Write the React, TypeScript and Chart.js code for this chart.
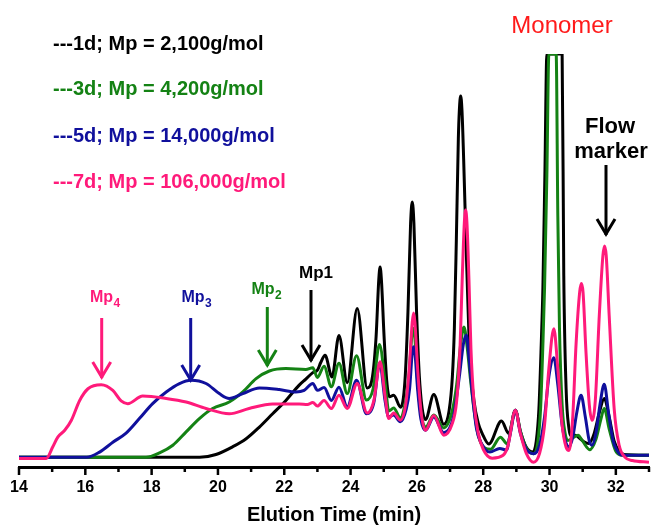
import { useEffect, useRef } from 'react';
import { Chart, registerables } from 'chart.js';

Chart.register(...registerables);

const FONT = "'Liberation Sans', Arial, Helvetica, sans-serif";

const X_MIN = 14;
const X_MAX = 33;
const Y_MIN = -2.4;
const Y_MAX = 100;
const xTickLabels = [14, 16, 18, 20, 22, 24, 26, 28, 30, 32];
const axisTitle = 'Elution Time (min)';

const seriesNames = ['1d', '3d', '5d', '7d'];
const legendLabels = [
  '---1d; Mp = 2,100g/mol',
  '---3d; Mp = 4,200g/mol',
  '---5d; Mp = 14,000g/mol',
  '---7d; Mp = 106,000g/mol',
];
const seriesColors = ['#000000', '#148214', '#10109c', '#ff1a7a'];

// [elution time (min), detector response]
const black1d: [number, number][] = [
  [14, 0], [19.45, 0], [19.94, 0.7], [20.44, 2.6], [20.85, 4.6], [21.25, 7.5], [21.65, 10.8],
  [22.05, 14.1], [22.45, 17.9], [22.65, 19.4], [22.86, 21], [23.0, 21.6], [23.1, 23.5],
  [23.23, 25.3], [23.44, 19.9], [23.65, 30.2], [23.9, 18.5], [24.2, 36.9], [24.5, 17.2],
  [24.66, 20], [24.77, 30], [24.85, 44], [24.89, 47.2], [24.93, 44], [25.01, 30], [25.09, 19],
  [25.17, 15], [25.3, 15.4], [25.51, 12.4], [25.64, 19], [25.73, 36], [25.81, 58], [25.86, 63.3],
  [25.91, 58], [25.99, 36], [26.09, 18], [26.26, 9.4], [26.51, 15.6], [26.81, 8.2], [26.97, 11.5],
  [27.07, 20], [27.13, 32], [27.19, 54], [27.25, 79], [27.28, 86], [27.32, 89.6], [27.36, 86],
  [27.41, 74], [27.49, 51], [27.59, 26.6], [27.72, 14.1], [27.85, 8.5], [27.97, 5.9],
  [28.17, 3.3], [28.55, 9], [28.77, 5.9], [28.97, 11.7], [29.12, 6.5], [29.3, 2.5], [29.5, 1.3],
  [29.6, 4], [29.68, 12], [29.75, 28], [29.8, 42], [29.86, 70], [29.92, 100], [30.38, 100],
  [30.43, 45], [30.5, 17], [30.58, 7.5], [30.68, 5.2], [30.78, 5.5], [30.9, 4.8], [31.05, 3.8],
  [31.18, 3.4], [31.35, 6], [31.5, 11], [31.65, 14.6], [31.8, 10], [31.95, 4], [32.1, 1.5],
  [32.25, 0.7], [33, 0.5],
];

const green3d: [number, number][] = [
  [14, 0], [17.83, 0], [18.24, 1.1], [18.64, 3], [19.04, 6.3], [19.44, 9.6], [19.84, 12.1],
  [20.34, 13.7], [20.75, 16.2], [21.15, 19.5], [21.55, 21.4], [22.05, 22], [22.65, 21.8],
  [22.86, 22.2], [23.0, 19.8], [23.2, 22.6], [23.42, 17.5], [23.65, 23.3], [23.9, 15.8],
  [24.18, 25.2], [24.48, 14.2], [24.68, 17], [24.87, 28], [25.05, 18], [25.15, 11.5], [25.3, 12.2],
  [25.5, 9.8], [25.66, 14], [25.76, 20], [25.85, 30.5], [25.89, 32], [25.93, 30.5], [26.02, 19],
  [26.12, 11], [26.26, 7.5], [26.51, 10.5], [26.81, 7.3], [27.05, 11], [27.2, 18], [27.32, 28],
  [27.42, 32.3], [27.52, 27], [27.62, 19], [27.72, 12], [27.85, 5.5], [28.05, 2.3], [28.22, 2.0],
  [28.52, 5], [28.72, 3.4], [28.97, 11.7], [29.12, 6.5], [29.3, 2.3], [29.52, 0.9], [29.65, 4],
  [29.73, 12], [29.8, 28], [29.85, 42], [29.92, 70], [29.98, 100], [30.2, 100], [30.25, 60],
  [30.3, 32], [30.38, 13], [30.47, 6], [30.55, 4.2], [30.7, 4.8], [30.86, 5.5], [31.0, 4],
  [31.21, 1.9], [31.4, 4.5], [31.55, 9.5], [31.65, 12.1], [31.8, 7], [32.0, 1.5], [32.2, 0.5],
  [33, 0.5],
];

const blue5d: [number, number][] = [
  [14, 0], [16.04, 0], [16.43, 1.3], [16.84, 3.8], [17.23, 6], [17.63, 9.6], [18.03, 13.3],
  [18.44, 16.2], [18.84, 18.3], [19.19, 19.1], [19.64, 18.3], [20.04, 15.8], [20.34, 14.6],
  [20.75, 15.8], [21.25, 17.2], [21.85, 16.8], [22.35, 16.2], [22.6, 16.6], [22.86, 18.3],
  [23.0, 16.6], [23.2, 17.3], [23.42, 14.1], [23.65, 17.4], [23.9, 12.5], [24.18, 19.1],
  [24.48, 10.8], [24.7, 13.5], [24.88, 23.4], [25.04, 14], [25.15, 10], [25.3, 10.5], [25.5, 8.8],
  [25.68, 12], [25.78, 17], [25.86, 26], [25.9, 27.4], [25.94, 26], [26.02, 17], [26.12, 9.5],
  [26.26, 6.7], [26.51, 10], [26.81, 6.1], [27.1, 10], [27.28, 20], [27.4, 28], [27.49, 30.3],
  [27.58, 24], [27.67, 15.9], [27.8, 7], [27.95, 3.4], [28.2, 1.3], [28.5, 2.2], [28.7, 1.8],
  [28.82, 6], [28.97, 11.7], [29.12, 6], [29.3, 2], [29.52, 0.9], [29.7, 3], [29.85, 10],
  [29.98, 20], [30.13, 24.7], [30.25, 18], [30.38, 8], [30.5, 3.5], [30.59, 2.6], [30.7, 5],
  [30.82, 11], [30.95, 15.4], [31.08, 10], [31.2, 4], [31.28, 3.0], [31.4, 6], [31.52, 13],
  [31.65, 18.1], [31.78, 11], [31.92, 4], [32.05, 1.5], [32.16, 0.6], [33, 0.5],
];

const pink7d: [number, number][] = [
  [14, -0.3], [14.82, -0.3], [15.02, 2.6], [15.17, 5], [15.38, 6.7], [15.58, 9.2], [15.83, 14.1],
  [16.08, 17], [16.48, 18], [16.83, 16.6], [17.08, 14], [17.28, 13.3], [17.73, 15.2], [18.44, 14.6],
  [19.04, 13.7], [19.64, 12.1], [20.34, 10.8], [20.94, 12.1], [21.65, 13.2], [22.45, 13.2],
  [22.7, 13.1], [22.86, 13.6], [23.0, 12.7], [23.2, 14.1], [23.42, 12.1], [23.65, 15.4], [23.9, 12.1],
  [24.2, 18.3], [24.5, 11], [24.7, 14], [24.89, 23.7], [25.05, 14.5], [25.15, 9.6], [25.3, 11],
  [25.5, 9.2], [25.66, 13], [25.76, 21], [25.86, 33.5], [25.9, 35.8], [25.94, 33.5], [26.03, 21],
  [26.13, 11], [26.26, 6.7], [26.51, 10.4], [26.81, 5.5], [27.05, 8], [27.2, 14], [27.3, 27],
  [27.37, 45], [27.43, 58], [27.47, 61.3], [27.51, 58], [27.57, 44], [27.63, 27], [27.72, 14],
  [27.85, 6], [28.0, 2], [28.27, -0.2], [28.6, 0.5], [28.75, 3], [28.97, 11.7], [29.12, 6],
  [29.3, 1], [29.52, -1.2], [29.7, 1], [29.85, 8], [29.98, 22], [30.13, 31.9], [30.25, 22],
  [30.38, 8], [30.5, 2.5], [30.59, 1.7], [30.7, 10], [30.8, 28], [30.91, 41], [30.96, 43.1],
  [31.01, 41], [31.1, 26], [31.2, 13], [31.28, 9.2], [31.38, 14], [31.5, 35], [31.61, 50],
  [31.66, 52.4], [31.71, 50], [31.8, 35], [31.95, 12], [32.1, 3], [32.28, 0], [32.5, -0.8],
  [33, -1.2],
];

const seriesData = [black1d, green3d, blue5d, pink7d];
const seriesOrder = [3, 2, 1, 0];

function drawArrow(ctx: CanvasRenderingContext2D, x: number, y0: number, y1: number, color: string) {
  ctx.strokeStyle = color;
  ctx.lineWidth = 3;
  ctx.lineCap = 'butt';
  ctx.lineJoin = 'miter';
  ctx.beginPath();
  ctx.moveTo(x, y0);
  ctx.lineTo(x, y1 - 1);
  ctx.stroke();
  ctx.beginPath();
  ctx.moveTo(x - 9, y1 - 17);
  ctx.lineTo(x, y1 - 2);
  ctx.lineTo(x + 9, y1 - 17);
  ctx.stroke();
}

function drawMp(ctx: CanvasRenderingContext2D, x: number, y: number, sub: string, color: string) {
  ctx.fillStyle = color;
  ctx.textAlign = 'left';
  ctx.textBaseline = 'middle';
  ctx.font = `bold 16px ${FONT}`;
  ctx.fillText('Mp', x, y);
  const w = ctx.measureText('Mp').width;
  ctx.font = `bold 12px ${FONT}`;
  ctx.fillText(sub, x + w + 0.5, y + 6);
}

const annotationPlugin = {
  id: 'gpcAnnotations',
  afterDraw(chart: any) {
    const ctx: CanvasRenderingContext2D = chart.ctx;
    const xs = chart.scales.x;
    ctx.save();
    // minor / major tick marks
    ctx.strokeStyle = '#000';
    ctx.lineWidth = 2.5;
    for (let v = X_MIN; v <= X_MAX; v++) {
      let px = xs.getPixelForValue(v);
      px = Math.min(px, chart.width - 1.5);
      const len = v % 2 === 0 ? 8 : 5;
      ctx.beginPath();
      ctx.moveTo(px, xs.top);
      ctx.lineTo(px, xs.top + len);
      ctx.stroke();
    }
    // legend texts
    const legendY = [44, 89.5, 136, 182];
    ctx.textAlign = 'left';
    ctx.textBaseline = 'middle';
    ctx.font = `bold 20px ${FONT}`;
    legendLabels.forEach((t, i) => {
      ctx.fillStyle = seriesColors[i];
      ctx.fillText(t, 53, legendY[i]);
    });
    // Monomer
    ctx.textAlign = 'center';
    ctx.font = `24px ${FONT}`;
    ctx.fillStyle = '#ff1a1a';
    ctx.fillText('Monomer', 562, 26);
    // Flow marker
    ctx.font = `bold 22px ${FONT}`;
    ctx.fillStyle = '#000';
    ctx.fillText('Flow', 610, 127);
    ctx.fillText('marker', 611, 152);
    drawArrow(ctx, 606, 165, 236, '#000');
    // Mp labels and arrows
    drawMp(ctx, 90, 298, '4', seriesColors[3]);
    drawArrow(ctx, 101.7, 318, 379, seriesColors[3]);
    drawMp(ctx, 181.5, 298, '3', seriesColors[2]);
    drawArrow(ctx, 190.7, 318, 382, seriesColors[2]);
    drawMp(ctx, 251.5, 290, '2', seriesColors[1]);
    drawArrow(ctx, 267.3, 307, 367, seriesColors[1]);
    ctx.fillStyle = '#000';
    ctx.textAlign = 'left';
    ctx.font = `bold 17px ${FONT}`;
    ctx.fillText('Mp1', 299, 273);
    drawArrow(ctx, 311, 290, 362, '#000');
    ctx.restore();
  },
};

export default function App() {
  const ref = useRef<HTMLCanvasElement>(null);
  useEffect(() => {
    if (!ref.current) return;
    const chart = new Chart(ref.current, {
      type: 'line',
      data: {
        datasets: seriesData.map((pts, i) => ({
          label: seriesNames[i],
          data: pts.map(([x, y]) => ({ x, y })),
          borderColor: seriesColors[i],
          backgroundColor: seriesColors[i],
          borderWidth: 3,
          pointRadius: 0,
          fill: false,
          cubicInterpolationMode: 'monotone' as const,
          order: seriesOrder[i],
        })),
      },
      options: {
        responsive: false,
        animation: false,
        devicePixelRatio: 1,
        layout: { padding: { left: 19, right: 0, top: 54, bottom: 0 } },
        plugins: {
          legend: { display: false },
          tooltip: { enabled: false },
          title: { display: false },
        },
        scales: {
          x: {
            type: 'linear',
            min: X_MIN,
            max: X_MAX,
            grid: { display: false, drawTicks: true, tickLength: 10 },
            border: { display: true, color: '#000', width: 3 },
            ticks: {
              stepSize: 1,
              autoSkip: false,
              maxRotation: 0,
              padding: 2,
              color: '#000',
              font: { family: FONT, size: 16, weight: 'bold', lineHeight: 1.125 },
              callback: (v: any) => (xTickLabels.includes(Number(v)) ? String(v) : ''),
            },
            title: {
              display: true,
              text: axisTitle,
              color: '#000',
              font: { family: FONT, size: 20, weight: 'bold' },
              padding: { top: 4, bottom: 1 },
            },
          },
          y: { display: false, min: Y_MIN, max: Y_MAX },
        },
      },
      plugins: [annotationPlugin],
    });
    return () => chart.destroy();
  }, []);
  return (
    <div style={{ position: 'fixed', left: 0, top: 0, width: 651, height: 528, background: '#fff' }}>
      <canvas ref={ref} width={651} height={528} style={{ display: 'block' }} />
    </div>
  );
}
